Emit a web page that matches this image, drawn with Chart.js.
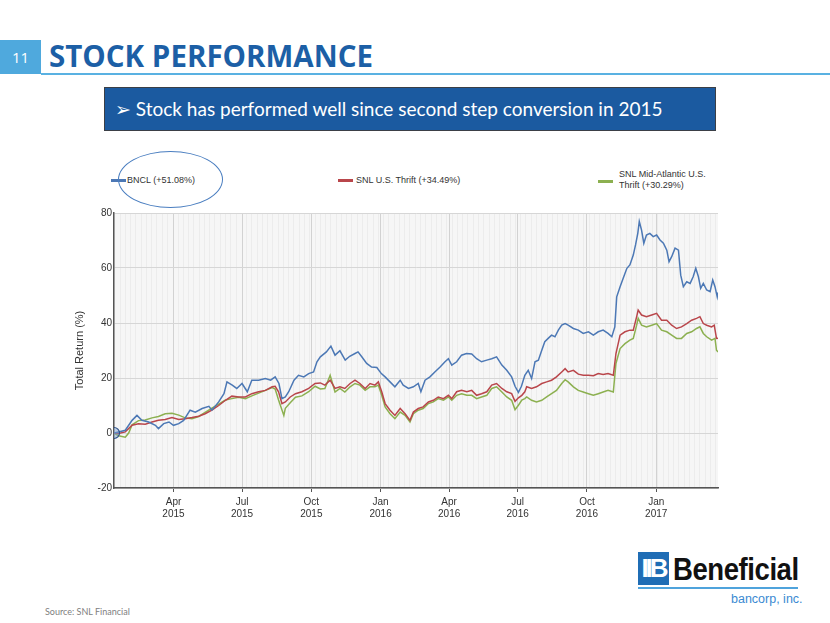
<!DOCTYPE html>
<html><head><meta charset="utf-8">
<script src="https://cdn.jsdelivr.net/npm/chart.js@4/dist/chart.umd.min.js"></script>
<style>
html,body{margin:0;padding:0;}
body{width:830px;height:623px;position:relative;background:#fff;overflow:hidden;font-family:"Liberation Sans",Arial,sans-serif;}
.abs{position:absolute;}
#numBox{left:0;top:40px;width:41px;height:34px;background:#4fa9dd;color:#fff;font:15px "Open Sans",sans-serif;line-height:34px;text-align:center;}
#title{left:49px;top:38px;font-family:"Open Sans",sans-serif;font-weight:700;font-size:29.5px;line-height:36px;color:#1c5fa6;white-space:nowrap;}
#rule{left:41px;top:73px;width:789px;height:2px;background:#59b1e2;}
#banner{left:104px;top:87px;width:612px;height:44px;background:#1b5aa0;border:1px solid #3b3f46;box-sizing:border-box;color:#fff;font-family:"Lato",sans-serif;font-size:19px;line-height:42px;white-space:nowrap;padding-left:10px;}
.leg{font-size:9px;color:#333;white-space:nowrap;line-height:11px;}
.sw{height:3px;width:15px;}
#ellipse{left:118px;top:151px;width:105px;height:57px;border:1.3px solid #4a7ec0;border-radius:50%;box-sizing:border-box;}
#chartWrap{left:60px;top:205px;width:670px;height:320px;}
#source{left:45px;top:606px;font:9px "Lato",sans-serif;color:#808080;}
#logoIcon{left:638px;top:552px;width:31px;height:33px;background:#1f6db5;color:#fff;font:bold 26px "Liberation Sans",Arial,sans-serif;line-height:33px;text-align:center;letter-spacing:-3px;}
#logoText{left:673px;top:550px;font:bold 32px "Liberation Sans",Arial,sans-serif;color:#111;line-height:38px;transform:scaleX(0.86);transform-origin:0 0;white-space:nowrap;letter-spacing:-0.5px;}
#logoRule{left:638px;top:587px;width:160px;height:2px;background:#4fa3dc;}
#logoSub{left:731px;top:592px;font:12.5px "Liberation Sans",Arial,sans-serif;color:#3b8ad2;white-space:nowrap;}
</style></head><body>

<div id="numBox" class="abs">11</div>
<div id="title" class="abs">STOCK PERFORMANCE</div>
<div id="rule" class="abs"></div>
<div id="banner" class="abs">&#10146;&nbsp;Stock has performed well since second step conversion in 2015</div>

<div class="abs sw" style="left:111px;top:179px;background:#4c78b5;"></div>
<div class="abs leg" style="left:127px;top:175px;">BNCL (+51.08%)</div>
<div class="abs sw" style="left:338px;top:179px;background:#b9464b;"></div>
<div class="abs leg" style="left:356px;top:175px;">SNL U.S. Thrift (+34.49%)</div>
<div class="abs sw" style="left:598px;top:180px;background:#8cb050;"></div>
<div class="abs leg" style="left:619px;top:169px;">SNL Mid-Atlantic U.S.<br>Thrift (+30.29%)</div>
<div id="ellipse" class="abs"></div>

<div id="chartWrap" class="abs"><canvas id="c"></canvas></div>

<div id="source" class="abs">Source: SNL Financial</div>
<div id="logoIcon" class="abs">IIB</div>
<div id="logoText" class="abs">Beneficial</div>
<div id="logoRule" class="abs"></div>
<div id="logoSub" class="abs">bancorp, inc.</div>

<script>
// x values are days since 2015-01-01
const bnclDays = [11,17,26,35,41.5,48,57,66,70,77,
  84,90,97,103.5,112,119,128,137,141,150,
  157,161,168,174,181,188,194,203,212,219,
  225,230,234,238.5,243,250,256,263,269.5,276,
  280.5,285,293,299,304.5,311,318,324,331,335,
  340,346.5,353,360,366,371,377.5,384,391,395,
  402,408.5,415,418.5,424,430.5,437,444,450.5,455,
  459.5,466,472.5,479,486,492.5,499,506,512.5,519,
  526,532.5,539,543.5,548,552,556.5,561,565.5,570,
  574.5,579,583,587.5,592,596.5,601,605.5,610,614,
  621,627.5,634,641,647.5,654,660.5,667,672,676,
  678.5,683,687,692,696,700.5,703.5,706.5,708.5,711.5,
  714.5,718,722.5,727,731.5,736,740.5,745,748,751.5,
  756,760.5,763.5,767,771.5,776,780,783.5,787,790,
  793.5,798,802.5,806,809,812,813];
const bnclValues = [0,0.4,1,4.6,6.4,4.6,4,2.8,1.6,3.4,
  4,2.8,3.4,4.6,8.3,7.6,8.9,9.7,8.3,11.3,
  14.3,18.6,17.4,16.2,18,15,19.2,19.2,19.8,19.2,
  20.4,18,12.5,13.1,15,19.2,21,20.4,21.6,22.2,
  25.9,27.7,29.5,31.6,28.3,29.9,26.5,27.9,28.9,29.5,
  27.7,25.3,24,23.8,21.6,20.4,18.6,16.8,19.2,17.4,
  16.2,16.8,18,15,19.2,20.4,22.2,24,25.9,27,
  24.7,25.9,28.3,28.9,28.7,27,25.9,26.5,27,27.7,
  24.7,22.8,20.4,17,14.8,17,21,22.8,19.8,25.9,
  26.5,30.1,33.2,34.4,35.6,35,37.4,39.2,39.8,39.2,
  38,37.4,36.2,36.8,35.6,36.8,37.4,36.2,35,38.6,
  49.5,53.2,56.2,59.9,61.1,64.7,68.4,72.6,76.9,73.8,
  69,72,72.6,71.4,72,70.2,69,66.5,62.3,64.1,
  67.2,66.5,57.4,53.2,55,54.4,56.8,59.9,56.8,52.6,
  54.4,52,51.4,55.6,53.2,49.5,51.1];

const thriftDays = [11,17,26,35,43.5,52.5,61.5,70,79,88,
  97,105.5,114.5,123.5,132,141,150,159,167.5,176.5,
  185.5,194,203,212,221,225,229.5,234,238.5,245,
  252,260.5,269.5,278,285,291,298,304.5,311,317.5,
  324.5,331,337.5,344.5,351,357.5,362,366.5,371,377.5,
  384,391,397.5,404,408.5,415,421.5,428.5,435,441.5,
  448.5,455,459.5,466,472.5,479.5,486,492.5,499,506,
  512.5,519,526,532.5,539,543.5,548,552.5,556.5,559,
  565.5,572,579,585.5,592,598.5,605.5,610,614,621,
  627.5,634,641,647.5,654,660.5,667,674,677.5,683,
  689.5,696,700.5,705,707,711.5,718,725,731.5,738,
  745,751.5,758,764.5,771.5,778,784.5,789,793.5,798,
  804.5,808,811,813];
const thriftValues = [0,-0.2,0.4,2.8,3.4,3.2,4,4.6,4.9,5.6,
  4.9,5.2,5.6,6.1,7,8.3,10,11.9,13.4,13.1,
  13.1,14.3,15,15.5,16.8,17,15,10.7,11.3,13.1,
  14.3,15,16.2,18,18.2,17.4,19.2,16.2,16.8,16.2,
  18,19.2,18,16.2,18,17.4,18.6,15,10.7,8.3,
  6.4,8.9,7,4.6,7.6,8.9,9.5,11.3,11.9,13.1,
  12.5,13.7,12.5,15,15.5,15,15.5,13.7,14.3,15,
  17.4,18,16.2,15,14.3,11.5,12.8,13.7,15,16.8,
  16.2,16.8,18,18.6,19.2,20.4,22.2,23.4,22.2,22.8,
  21.4,21,21,20.8,21.6,21.3,21.6,21,28.9,35.6,
  36.8,37.4,37.4,42.3,44.7,42.9,42.3,42.9,43.5,41,
  41,39.2,38,38.6,39.8,41,41.7,42.3,39.8,39.2,
  38.6,39.2,34.4,34.5];

const midAtlDays = [11,17,26,30.5,35,43.5,52.5,61.5,70,79,
  88,97,105.5,114.5,123.5,132,141,150,159,167.5,
  176.5,185.5,194,203,212,221,225,229.5,236.5,238.5,
  245,252,260.5,269.5,278,285,291,298,304.5,311,
  317.5,324.5,331,337.5,344.5,351,357.5,362,366.5,371,
  377.5,384,391,397.5,404,408.5,415,421.5,428.5,435,
  441.5,448.5,455,459.5,466,472.5,479.5,486,492.5,499,
  506,512.5,519,526,532.5,539,543.5,548,552.5,556.5,
  559,565.5,572,579,585.5,592,598.5,605.5,610,614,
  621,627.5,634,641,647.5,654,660.5,667,674,677.5,
  683,689.5,696,700.5,705,707,711.5,718,725,731.5,
  738,745,751.5,758,764.5,771.5,778,784.5,789,793.5,
  798,804.5,809,811,813];
const midAtlValues = [0,-1,-1.5,0,3,4.5,4.7,5.5,6,7,
  7.2,6.5,5.5,5.2,6,7.5,9,10.5,12,12.5,
  13,12.5,13.5,14.5,15.5,16.5,16,12,6.4,9,
  11,13,13.5,15,17,16,16.2,21,14.9,16.2,
  14.9,16.8,18,17.4,15.5,16.8,16.8,17.4,13.7,9.5,
  7,5.2,7.6,6.4,4,7,8.3,8.9,10.7,11.3,
  12.5,11.9,13.1,11.9,13.7,14.3,13.7,13.7,12.5,13.1,
  13.7,16.2,16.8,14.9,13.1,11.9,8.5,10.1,12,12.5,
  13.1,11.9,11.3,11.9,13.1,14.3,15.5,18,19.4,18.6,
  16.8,15.5,14.9,14.3,13.7,14.3,14.9,15.5,14.9,25.3,
  30.7,32.5,33.8,34.4,39.2,41.7,39.2,38.6,39.2,39.8,
  37.4,36.8,35.6,34.4,34.4,36.2,36.8,38,38.6,36.2,
  35,33.8,34.4,30.1,29.5];

const seriesNames = ['BNCL (+51.08%)', 'SNL U.S. Thrift (+34.49%)', 'SNL Mid-Atlantic U.S. Thrift (+30.29%)'];
const quarterDays = [90,181,273,365,456,547,639,731];
const quarterLabels = [['Apr','2015'],['Jul','2015'],['Oct','2015'],['Jan','2016'],['Apr','2016'],['Jul','2016'],['Oct','2016'],['Jan','2017']];
const yTicks = [-20,0,20,40,60,80];
const xMin = 11, xMax = 813;

const pts = (xs, ys) => xs.map((x, i) => ({x: x, y: ys[i]}));

const plotBg = {
  id: 'plotBg',
  beforeDraw(chart) {
    const {ctx, chartArea: a} = chart;
    ctx.save();
    ctx.fillStyle = '#f6f6f6';
    ctx.fillRect(a.left, a.top, a.width, a.height);
    ctx.restore();
  }
};

Chart.defaults.font.family = '"Liberation Sans", Arial, sans-serif';
Chart.defaults.color = '#333';

const isQuarter = v => quarterDays.indexOf(v) >= 0;

new Chart(document.getElementById('c'), {
  type: 'line',
  data: {
    datasets: [
      {label: seriesNames[0], data: pts(bnclDays, bnclValues), borderColor: '#4c78b5', borderWidth: 1.5,
       pointRadius: c => c.dataIndex === 0 ? 5.5 : 0, pointBackgroundColor: 'rgba(120,160,210,0.45)',
       pointBorderColor: '#2b4f86', pointBorderWidth: 1.2, tension: 0},
      {label: seriesNames[1], data: pts(thriftDays, thriftValues), borderColor: '#b9464b', borderWidth: 1.5, pointRadius: 0, tension: 0},
      {label: seriesNames[2], data: pts(midAtlDays, midAtlValues), borderColor: '#8cb050', borderWidth: 1.5, pointRadius: 0, tension: 0}
    ]
  },
  options: {
    responsive: true, maintainAspectRatio: false, animation: false,
    layout: {padding: {top: 8, right: 12, left: 0, bottom: 0}},
    plugins: {legend: {display: false}, tooltip: {enabled: false}},
    scales: {
      x: {
        type: 'linear', min: xMin, max: xMax,
        afterBuildTicks(scale) {
          const t = [];
          for (let d = 12; d <= xMax; d += 7) { if (!quarterDays.some(q => Math.abs(q - d) < 2)) t.push({value: d}); }
          quarterDays.forEach(q => t.push({value: q}));
          t.sort((a, b) => a.value - b.value);
          scale.ticks = t;
        },
        afterFit(scale) { scale.height = 37; },
        ticks: {
          autoSkip: false, maxRotation: 0, padding: 4,
          font: {size: 10}, color: '#333',
          callback: v => { const i = quarterDays.indexOf(v); return i >= 0 ? quarterLabels[i] : ''; }
        },
        grid: {
          color: c => (c.tick && isQuarter(c.tick.value)) ? '#d2d2d2' : '#ececec',
          tickColor: c => (c.tick && isQuarter(c.tick.value)) ? '#555' : 'rgba(0,0,0,0)',
          tickLength: 4, lineWidth: 1
        },
        border: {color: '#555', width: 1.5}
      },
      y: {
        min: -20, max: 80,
        afterBuildTicks(scale) { scale.ticks = yTicks.map(v => ({value: v})); },
        afterFit(scale) { scale.width = 54; },
        ticks: {font: {size: 10}, color: '#333', padding: 2},
        grid: {color: '#d6d6d6', lineWidth: 1, drawTicks: false},
        border: {color: '#555', width: 1.5},
        title: {display: true, text: 'Total Return (%)', font: {size: 11}, color: '#333', padding: {top: 13, bottom: 0}}
      }
    }
  },
  plugins: [plotBg]
});
</script>
</body></html>
